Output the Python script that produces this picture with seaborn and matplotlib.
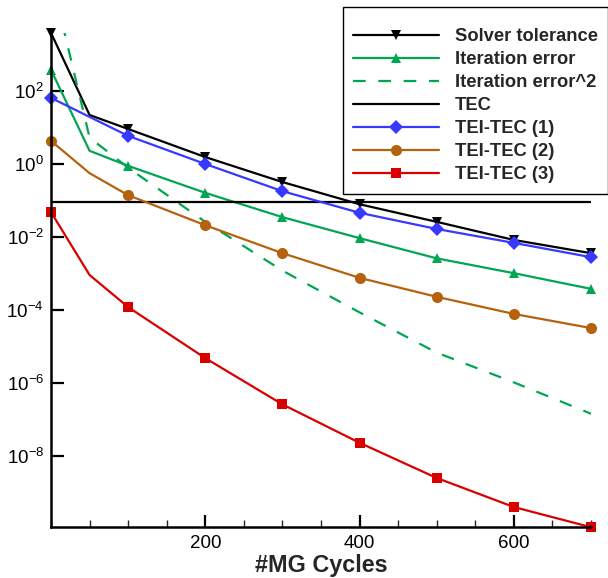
import numpy as np
import pandas as pd
import matplotlib
matplotlib.use("Agg")
import matplotlib.pyplot as plt
import matplotlib.ticker as mticker
import seaborn as sns

# Multigrid cycles at which the error measures were recorded
cycles = [0, 50, 100, 200, 300, 400, 500, 600, 700]

solver_tolerance = [3.9e3, 2.2e1, 9.1e0, 1.55e0, 3.2e-1, 7.9e-2, 2.6e-2, 8.3e-3, 3.6e-3]
iteration_error = [3.8e2, 2.3e0, 8.9e-1, 1.62e-1, 3.5e-2, 9.3e-3, 2.6e-3, 1.02e-3, 3.8e-4]
iteration_error_sq = [1.4e5, 5.3e0, 7.9e-1, 2.6e-2, 1.2e-3, 8.6e-5, 6.8e-6, 1.04e-6, 1.44e-7]
tec = [0.092, 0.092, 0.092, 0.092, 0.092, 0.092, 0.092, 0.092, 0.092]
tei_tec_1 = [6.5e1, 1.95e1, 5.9e0, 1.0e0, 1.8e-1, 4.6e-2, 1.66e-2, 6.9e-3, 2.8e-3]
tei_tec_2 = [4.3e0, 5.6e-1, 1.4e-1, 2.1e-2, 3.6e-3, 7.6e-4, 2.3e-4, 7.8e-5, 3.2e-5]
tei_tec_3 = [4.8e-2, 9.1e-4, 1.2e-4, 4.8e-6, 2.6e-7, 2.3e-8, 2.5e-9, 4.0e-10, 1.12e-10]

series = [
    ("Solver tolerance", solver_tolerance, "#000000", "-", "v", 6.5),
    ("Iteration error", iteration_error, "#00A651", "-", "^", 6.5),
    ("Iteration error^2", iteration_error_sq, "#00A651", (0, (5.7, 5.7)), None, 0),
    ("TEC", tec, "#000000", "-", None, 0),
    ("TEI-TEC (1)", tei_tec_1, "#3838FF", "-", "D", 6.8),
    ("TEI-TEC (2)", tei_tec_2, "#B5620E", "-", "o", 8),
    ("TEI-TEC (3)", tei_tec_3, "#D80000", "-", "s", 6.5),
]

sns.set_style("ticks")
plt.rcParams["font.family"] = ["Liberation Sans", "DejaVu Sans"]
plt.rcParams["mathtext.fontset"] = "custom"
plt.rcParams["mathtext.rm"] = "Liberation Sans"
plt.rcParams["mathtext.it"] = "Liberation Sans:italic"
plt.rcParams["mathtext.bf"] = "Liberation Sans:bold"
plt.rcParams["axes.unicode_minus"] = False

fig = plt.figure(figsize=(6.08, 5.78), dpi=100)
ax = fig.add_axes([51 / 608, 1 - 527 / 578, 540 / 608, 494 / 578])

marker_idx = [0, 2, 3, 4, 5, 6, 7, 8]
for label, vals, color, ls, marker, ms in series:
    df = pd.DataFrame({"cycles": cycles, "value": vals})
    kw = dict(color=color, linewidth=1.6, label=label, linestyle=ls)
    if marker is not None:
        kw.update(marker=marker, markersize=ms, markevery=marker_idx,
                  markeredgewidth=0, clip_on=False)
    sns.lineplot(data=df, x="cycles", y="value", ax=ax, **kw)

ax.set_yscale("log")
ax.set_xlim(0, 700)
ax.set_ylim(10 ** -9.945, 10 ** 3.589)

ax.xaxis.set_major_locator(mticker.FixedLocator([200, 400, 600]))
ax.xaxis.set_minor_locator(mticker.MultipleLocator(50))
ax.yaxis.set_major_locator(mticker.FixedLocator([10.0 ** k for k in range(-8, 3, 2)]))
ax.yaxis.set_minor_locator(mticker.NullLocator())
ax.yaxis.set_major_formatter(mticker.LogFormatterSciNotation())

ax.tick_params(axis="both", which="major", direction="in", length=9, width=1.6,
               labelsize=13.5, pad=5, colors="black")
ax.tick_params(axis="x", which="minor", direction="in", length=5, width=1.0)
ax.tick_params(axis="x", which="major", pad=6)

for side in ("top", "right"):
    ax.spines[side].set_visible(False)
for side in ("left", "bottom"):
    ax.spines[side].set_linewidth(1.8)
    ax.spines[side].set_color("black")

ax.set_xlabel("#MG Cycles", fontsize=16.8, fontweight="bold", labelpad=1)
ax.set_ylabel("")

leg = ax.legend(loc="upper left", bbox_to_anchor=(343 / 608, 1 - 7 / 578),
                bbox_transform=fig.transFigure, borderaxespad=0,
                prop={"weight": "bold", "size": 13.2}, frameon=True,
                fancybox=False, handlelength=4.7, handletextpad=0.87,
                labelspacing=0.33, borderpad=0.55, numpoints=1,
                title=" ", title_fontsize=4)
leg.get_frame().set_edgecolor("black")
leg.get_frame().set_linewidth(1.0)
leg.get_frame().set_alpha(1)

fig.savefig("out.png", dpi=100)
